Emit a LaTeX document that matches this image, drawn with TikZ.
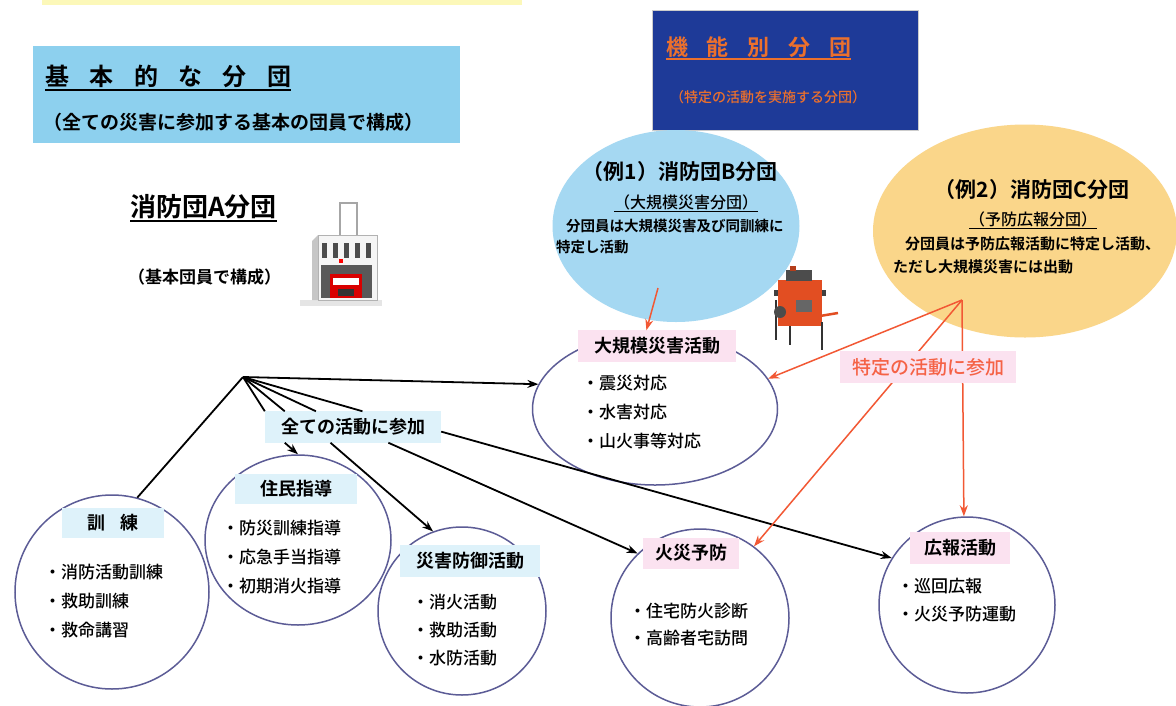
\documentclass[tikz,border=0pt]{standalone}
\usepackage{fontspec}
\setmainfont{Noto Sans CJK JP}[BoldFont={Noto Sans CJK JP Bold}]
\newfontfamily\medfont{Noto Sans CJK JP Medium}
\usepackage{xcolor}
\usetikzlibrary{arrows.meta, positioning, shapes.geometric}

\definecolor{stripyellow}{RGB}{252,248,185}
\definecolor{skyband}{RGB}{141,208,238}
\definecolor{navyband}{RGB}{30,58,152}
\definecolor{titleorange}{RGB}{236,112,44}
\definecolor{bblue}{RGB}{165,216,242}
\definecolor{corange}{RGB}{250,214,138}
\definecolor{tagblue}{RGB}{222,242,250}
\definecolor{tagpink}{RGB}{251,226,240}
\definecolor{ringline}{RGB}{92,92,150}
\definecolor{arrowred}{RGB}{242,88,52}
\definecolor{pinkred}{RGB}{245,98,70}
\definecolor{pumpred}{RGB}{226,78,34}

\newcommand\pxfont[2]{\fontsize{#1}{#2}\selectfont}
\newcommand\kgap{\hspace{0.85em}}
\newcommand\ulined[1]{\setbox0=\hbox{#1}\rlap{\copy0}\rule[-0.2em]{\wd0}{0.06em}}

\begin{document}
\begin{tikzpicture}[
  x=1pt, y=-1pt,
  ring/.style={ellipse, draw=ringline, line width=1.5pt, inner sep=0pt},
  tag/.style={fill=tagblue, inner xsep=16pt, inner ysep=7pt, font=\pxfont{18}{22}\bfseries},
  pinktag/.style={tag, fill=tagpink},
  items/.style={align=left, inner sep=0pt, anchor=west, font=\pxfont{17}{29}\medfont},
  line/.style={line width=1.8pt},
  link/.style={line, -{Stealth[length=11pt,width=8pt]}},
  redlink/.style={link, draw=arrowred, line width=1.5pt}
]
\clip (0,0) rectangle (1176,705);
\fill[white] (0,0) rectangle (1176,705);
\fill[stripyellow] (42,0) rectangle (522,5);

% Left: basic corps
\node[fill=skyband, minimum width=427pt, minimum height=97pt, anchor=north west] (basicband) at (33,46) {};
\node[anchor=west, inner sep=0pt, font=\pxfont{24}{28}\bfseries] (basic) at (45,78) {\ulined{基\kgap 本\kgap 的\kgap な\kgap 分\kgap 団}};
\node[anchor=west, inner sep=0pt, font=\pxfont{19}{22}\bfseries] (basicsub) at (43,122) {（全ての災害に参加する基本の団員で構成）};

\node[anchor=west, inner sep=0pt, font=\pxfont{26}{28}\bfseries] (aclub) at (130,208) {\ulined{消防団A分団}};
\node[anchor=west, inner sep=0pt, font=\pxfont{17}{20}\bfseries] (aclubsub) at (128,277) {（基本団員で構成）};

% fire station
\fill[gray!20] (300,300) rectangle (382,306);
\fill[white] (340,203) rectangle (357,235);
\draw[gray!70, line width=1.2pt] (340,235) -- (340,203) -- (357,203) -- (357,235);
\fill[gray!8] (318,235) rectangle (377,300);
\fill[gray!45] (312,241) -- (318,235) -- (318,300) -- (312,300) -- cycle;
\draw[gray!60] (318,235) rectangle (377,300);
\foreach \x in {322,333,344,355,366}
  \fill[black!70] (\x,243) rectangle ++(5,15);
\fill[gray!70!black] (321,265) rectangle (372,298);
\fill[red!85!black] (330,274) rectangle (362,298);
\fill[white] (333,278) rectangle (359,285);
\fill[black!80] (338,289) rectangle (354,296);
\fill[red] (339,259) rectangle (343,263);

% Right: functional corps
\node[fill=navyband, draw=gray!40, minimum width=266pt, minimum height=120pt, anchor=north west] (funcband) at (652,10) {};
\node[anchor=west, inner sep=0pt, text=titleorange, font=\pxfont{22}{26}\bfseries] (func) at (666,48) {\ulined{機\kgap 能\kgap 別\kgap 分\kgap 団}};
\node[anchor=west, inner sep=0pt, text=titleorange, font=\pxfont{14}{18}\medfont] (funcsub) at (670,97) {（特定の活動を実施する分団）};

\node[ellipse, fill=bblue, minimum width=247pt, minimum height=192pt] (bclub) at (676,226) {};
\node[font=\pxfont{21}{24}\bfseries] (bname) at (680,172) {（例1）消防団B分団};
\node[font=\pxfont{16}{18}\medfont] (bkind) at (686,203) {\ulined{（大規模災害分団）}};
\node[anchor=west, align=left, inner sep=0pt, font=\pxfont{14.5}{21}\bfseries] (bdesc) at (556,237) {\hspace*{10pt}分団員は大規模災害及び同訓練に\\特定し活動};

\node[ellipse, fill=corange, minimum width=304pt, minimum height=213pt] (cclub) at (1025,231) {};
\node[font=\pxfont{21}{24}\bfseries] (cname) at (1032,190) {（例2）消防団C分団};
\node[font=\pxfont{16}{18}\medfont] (ckind) at (1033,220) {\ulined{（予防広報分団）}};
\node[anchor=west, align=left, inner sep=0pt, font=\pxfont{15}{23}\bfseries] (cdesc) at (893,255.5) {\hspace*{12pt}分団員は予防広報活動に特定し活動、\\ただし大規模災害には出動};

% portable pump
\fill[black!75] (774,290) rectangle (826,296);
\fill[pumpred] (778,280) rectangle (822,326);
\fill[black!70] (786,270) rectangle (812,281);
\fill[pumpred!80!black] (790,266) rectangle (796,271);
\draw[black!80, line width=1.5pt] (776,300) -- (776,340) (822,322) -- (822,350) (790,326) -- (790,345);
\draw[pumpred, line width=2.5pt] (820,316) -- (838,313);
\fill[black!70] (780,312) circle (6pt);
\fill[black!60] (796,300) rectangle (812,312);

% Large-scale disaster activity
\node[ring, minimum width=245pt, minimum height=152pt] (daikibo) at (655,409) {};
\node[pinktag] (daikiboTag) at (657,346) {大規模災害活動};
\node[items] (daikiboList) at (582,412) {・震災対応\\・水害対応\\・山火事等対応};

% Bottom row of activities
\node[ring, minimum size=194pt] (kunren) at (112,592) {};
\node[tag, inner xsep=26pt] (kunrenTag) at (113,523) {訓\hspace{0.8em}練};
\node[items] (kunrenList) at (44,601.5) {・消防活動訓練\\・救助訓練\\・救命講習};

\node[ring, minimum width=186pt, minimum height=170pt] (juumin) at (298,540) {};
\node[tag, inner xsep=25pt] (juuminTag) at (296,489) {住民指導};
\node[items] (juuminList) at (222,557) {・防災訓練指導\\・応急手当指導\\・初期消火指導};

\node[ring, minimum size=168pt] (bougyo) at (462,611) {};
\node[tag] (bougyoTag) at (470,561) {災害防御活動};
\node[items, font=\pxfont{17}{28}\medfont] (bougyoList) at (412,630) {・消火活動\\・救助活動\\・水防活動};

\node[ring, minimum size=178pt] (kasai) at (700,618) {};
\node[pinktag, inner xsep=12pt] (kasaiTag) at (691,553) {火災予防};
\node[items, font=\pxfont{17}{27}\medfont] (kasaiList) at (629,624.5) {・住宅防火診断\\・高齢者宅訪問};

\node[ring, minimum size=176pt] (kouhou) at (967,605) {};
\node[pinktag, inner xsep=14pt] (kouhouTag) at (960,548) {広報活動};
\node[items, font=\pxfont{17}{28}\medfont] (kouhouList) at (897,600) {・巡回広報\\・火災予防運動};

% Black connectors from the hub
\coordinate (hub) at (243,377);
\node[tag] (zenbu) at (353,427) {全ての活動に参加};
\draw[link] (hub) -- (daikibo.168);
\draw[line] (hub) -- (kunren.75);
\foreach \a in {north west,167,157,59}
  \draw[line] (hub) -- (zenbu.\a);
\draw[link] (zenbu.193) -- (juumin.90);
\draw[link] (zenbu.215) -- (bougyo.110);
\draw[link] (zenbu.-24) -- (kasai.134);
\draw[link] (zenbu.-3) -- (kouhou.148);

% Red connectors from the functional corps
\coordinate (bpoint) at (658,288);
\draw[redlink] (bpoint) -- (daikiboTag.124);
\coordinate (cpoint) at (962,300);
\draw[redlink] (cpoint) -- (daikibo.15);
\draw[redlink] (cpoint) -- (kasai.53);
\draw[redlink] (cpoint) -- (kouhou.92);
\node[pinktag, inner xsep=12pt, text=pinkred, font=\pxfont{19}{22}\medfont] (tokutei) at (928,367) {特定の活動に参加};

\end{tikzpicture}
\end{document}
